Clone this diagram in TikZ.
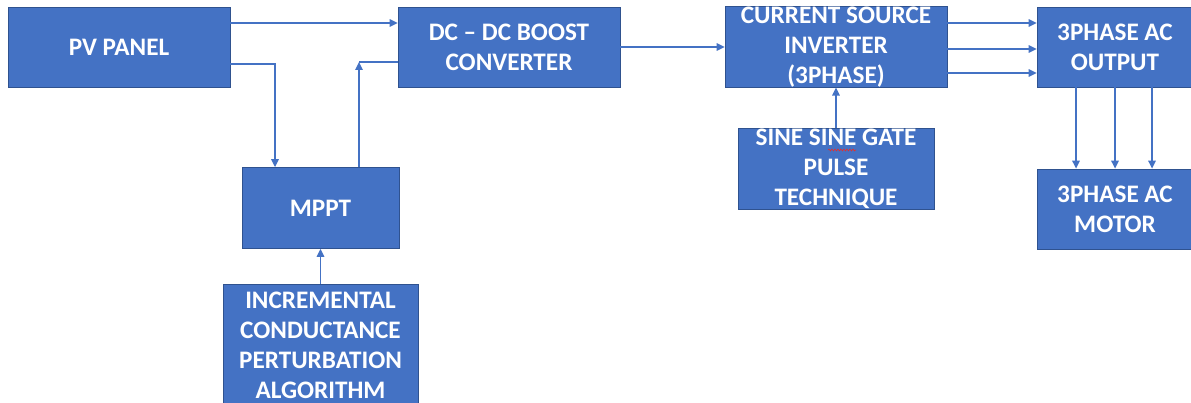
\documentclass[tikz,border=0pt]{standalone}
\usepackage{fontspec}
\setmainfont{Carlito}
\usetikzlibrary{arrows.meta,decorations.pathmorphing}
\definecolor{boxblue}{HTML}{4472C4}
\definecolor{boxedge}{HTML}{2F528F}
\definecolor{wavered}{HTML}{E03030}
\begin{document}
\begin{tikzpicture}[x=1pt,y=-1pt,
  block/.style={draw=boxedge, line width=0.8pt, fill=boxblue, text=white,
    align=center, inner sep=0pt,
    font=\fontsize{25.2}{30}\selectfont\bfseries},
  link/.style={draw=boxblue, line width=1.5pt},
  arr/.style={link, -{Triangle[length=8pt,width=7.5pt]}}]
  \useasboundingbox (0,0) rectangle (1191,403);
  \fill[white] (0,0) rectangle (1191,403);
  \clip (0,0) rectangle (1191,403);

  % blocks
  \node[block, minimum width=222, minimum height=80] (pv) at (119,47) {PV PANEL};
  \node[block, minimum width=222, minimum height=80] (dc) at (509,47) {DC -- DC BOOST\\CONVERTER};
  \node[block, minimum width=222, minimum height=80] (csi) at (836,47) {CURRENT SOURCE\\INVERTER\\(3PHASE)};
  \node[block, minimum width=156, minimum height=80] (out) at (1115,47) {3PHASE AC\\OUTPUT};
  \node[block, minimum width=156, minimum height=80] (motor) at (1115,209) {3PHASE AC\\MOTOR};
  \node[block, minimum width=157, minimum height=81] (mppt) at (320.5,208) {MPPT};
  \node[block, minimum width=196, minimum height=81] (sine) at (836,168.5) {SINE SINE GATE\\PULSE\\TECHNIQUE};
  \node[block, minimum width=195, minimum height=122] (inc) at (320.5,345) {INCREMENTAL\\CONDUCTANCE\\PERTURBATION\\ALGORITHM};

  % spell-check underline
  \draw[wavered, line width=0.6pt, decorate,
    decoration={snake, amplitude=0.9pt, segment length=3pt}] (828,150) -- (856,150);

  % connectors
  \draw[arr] ([yshift=24pt]pv.east) -- ([yshift=24pt]dc.west);
  \draw[arr] ([yshift=-17pt]pv.east) -| ([xshift=-45.5pt]mppt.north);
  \coordinate (fb) at (359,62);
  \draw[arr] ([xshift=38.5pt]mppt.north) -- (fb);
  \draw[link] (fb) -- (dc.west |- fb);
  \draw[arr] (dc.east) -- (csi.west);
  \draw[arr] ([yshift=24pt]csi.east) -- ([yshift=24pt]out.west);
  \draw[arr] ([yshift=-2pt]csi.east) -- ([yshift=-2pt]out.west);
  \draw[arr] ([yshift=-26pt]csi.east) -- ([yshift=-26pt]out.west);
  \draw[arr] ([xshift=-39pt]out.south) -- ([xshift=-39pt]motor.north);
  \draw[arr] (out.south) -- (motor.north);
  \draw[arr] ([xshift=37pt]out.south) -- ([xshift=37pt]motor.north);
  \draw[arr] (sine.north) -- (csi.south);
  \draw[arr] (inc.north) -- (mppt.south);
\end{tikzpicture}
\end{document}
